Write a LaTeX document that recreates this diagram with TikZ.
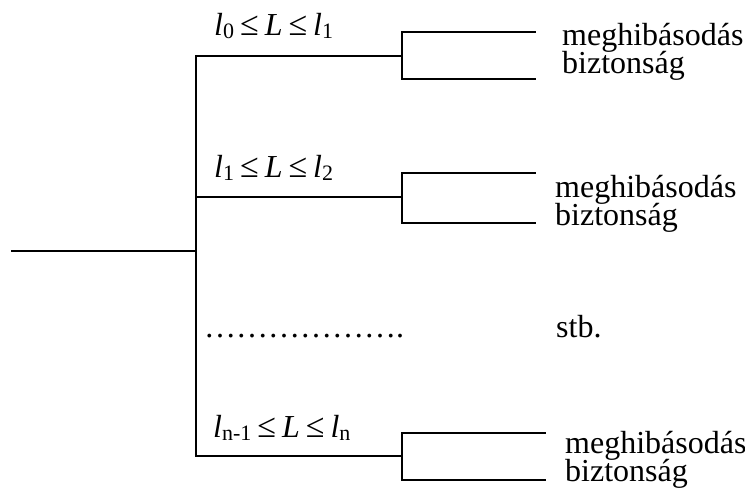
\documentclass[tikz,border=0pt]{standalone}
\usepackage{fontspec}
\setmainfont{Liberation Serif}
\newcommand\subx[1]{\raisebox{-3pt}{\fontsize{22}{22}\selectfont #1}}
\newcommand\rel{\hspace{6pt}{\fontsize{34}{34}\selectfont ≤}\hspace{6pt}}
\begin{document}
\begin{tikzpicture}[x=1pt,y=-1pt,
  wire/.style={line width=1.6pt,line cap=rect},
  pt/.style={inner sep=0pt,minimum size=0pt},
  txt/.style={inner sep=0pt,anchor=base west,font=\fontsize{32}{36}\selectfont}]
\useasboundingbox (0,0) rectangle (745,488);
% trunk
\node[pt] (root) at (12,251) {};
\node[pt] (mid) at (196,251) {};
\node[pt] (t1) at (196,56) {};
\node[pt] (t2) at (196,197) {};
\node[pt] (tn) at (196,456) {};
\draw[wire] (root) -- (mid);
\draw[wire] (t1) -- (tn);
% branch 1
\node[pt] (f1) at (402,56) {};
\node[pt] (f1a) at (402,32) {};
\node[pt] (f1b) at (402,79) {};
\node[pt] (e1a) at (535,32) {};
\node[pt] (e1b) at (535,79) {};
\draw[wire] (t1) -- (f1);
\draw[wire] (e1a) -- (f1a) -- (f1b) -- (e1b);
% branch 2
\node[pt] (f2) at (402,197) {};
\node[pt] (f2a) at (402,173) {};
\node[pt] (f2b) at (402,223) {};
\node[pt] (e2a) at (535,173) {};
\node[pt] (e2b) at (535,223) {};
\draw[wire] (t2) -- (f2);
\draw[wire] (e2a) -- (f2a) -- (f2b) -- (e2b);
% branch n
\node[pt] (fn) at (402,456) {};
\node[pt] (fna) at (402,433) {};
\node[pt] (fnb) at (402,480) {};
\node[pt] (ena) at (545,433) {};
\node[pt] (enb) at (545,480) {};
\draw[wire] (tn) -- (fn);
\draw[wire] (ena) -- (fna) -- (fnb) -- (enb);
% labels
\node[txt] (l1) at (214,35) {\textit{l}\subx{0}\rel\textit{L}\rel\textit{l}\subx{1}};
\node[txt] (l2) at (214,177) {\textit{l}\subx{1}\rel\textit{L}\rel\textit{l}\subx{2}};
\node[txt] (ln) at (213,437) {\textit{l}\subx{n-1}\rel\textit{L}\rel\textit{l}\subx{n}};
\node[txt] (dots) at (204,337) {……………….};
\node[txt] (stb) at (556,337) {stb.};
\node[txt] (m1) at (562,45) {meghibásodás};
\node[txt] (b1) at (562,73) {biztonság};
\node[txt] (m2) at (555,197) {meghibásodás};
\node[txt] (b2) at (555,225) {biztonság};
\node[txt] (mn) at (565,453) {meghibásodás};
\node[txt] (bn) at (565,481) {biztonság};
\end{tikzpicture}
\end{document}
